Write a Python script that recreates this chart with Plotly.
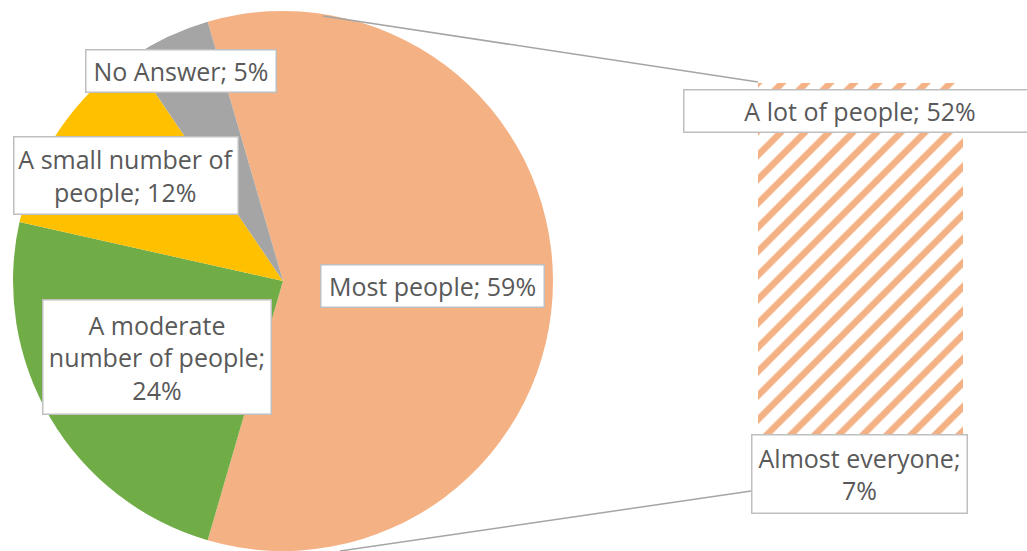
import plotly.graph_objects as go

# Pie (primary) data
pie_labels = ["Most people", "A moderate number of people", "A small number of people", "No Answer"]
pie_values = [59, 24, 12, 5]
pie_colors = ["#F4B183", "#70AD47", "#FFC000", "#A5A5A5"]
pie_label_text = ["Most people; 59%", "A moderate<br>number of people;<br>24%",
                  "A small number of<br>people; 12%", "No Answer; 5%"]

# Bar (secondary, breakdown of "Most people")
bar_labels = ["Almost everyone", "A lot of people"]
bar_values = [7, 52]
bar_label_text = ["Almost everyone;<br>7%", "A lot of people; 52%"]

W, H = 1027, 551
FONT = "Open Sans"
TXT = "#595959"
FS = 25

fig = go.Figure()

fig.add_trace(go.Pie(
    labels=pie_labels, values=pie_values, sort=False, direction="clockwise",
    rotation=-16.2, marker=dict(colors=pie_colors, line=dict(width=0)),
    textinfo="none", hoverinfo="label+percent",
    domain=dict(x=[13 / W, 553 / W], y=[0, 0.98]),
))

for lab, val in zip(bar_labels, bar_values):
    fig.add_trace(go.Bar(
        x=["Most people"], y=[val], name=lab, width=1,
        marker=dict(color="white", line=dict(width=0),
                    pattern=dict(shape="/", fgcolor="#F4B183", bgcolor="white",
                                 size=17, solidity=0.38, fillmode="replace")),
        xaxis="x", yaxis="y", hoverinfo="name+y",
    ))

fig.update_layout(
    width=W, height=H, margin=dict(l=0, r=0, t=0, b=0),
    paper_bgcolor="white", plot_bgcolor="rgba(0,0,0,0)",
    showlegend=False, barmode="stack", bargap=0,
    xaxis=dict(domain=[758 / W, 963 / W], visible=False, range=[-0.5, 0.5]),
    yaxis=dict(domain=[(H - 490) / H, (H - 83) / H], visible=False,
               range=[0, sum(bar_values)]),
    font=dict(family=FONT, color=TXT, size=FS),
)

# connector lines (pie -> bar)
line_style = dict(color="#A5A5A5", width=1.5)
fig.add_shape(type="line", xref="paper", yref="paper",
              x0=323 / W, y0=1 - 16 / H, x1=758 / W, y1=1 - 82 / H, line=line_style)
fig.add_shape(type="line", xref="paper", yref="paper",
              x0=340 / W, y0=1 - 551 / H, x1=758 / W, y1=1 - 490 / H, line=line_style)

# label boxes: (text, center x px, center y px, width px, height px)
boxes = [
    (pie_label_text[0], 432.5, 286, 225, 44),
    (pie_label_text[1], 157, 357, 230, 116),
    (pie_label_text[2], 126, 175.5, 226, 79),
    (pie_label_text[3], 181, 71, 192, 44),
    (bar_label_text[1], 860, 111, 354, 44),
    (bar_label_text[0], 859.5, 474, 217, 80),
]
for text, cx, cy, bw, bh in boxes:
    fig.add_annotation(
        text=text, xref="paper", yref="paper", x=cx / W, y=1 - cy / H,
        xanchor="center", yanchor="middle", showarrow=False,
        width=bw - 3, height=bh - 3, align="center", valign="middle",
        bgcolor="white", bordercolor="#BFBFBF", borderwidth=1.5, borderpad=0,
        font=dict(family=FONT, color=TXT, size=FS),
    )

fig.write_html("out.html")
